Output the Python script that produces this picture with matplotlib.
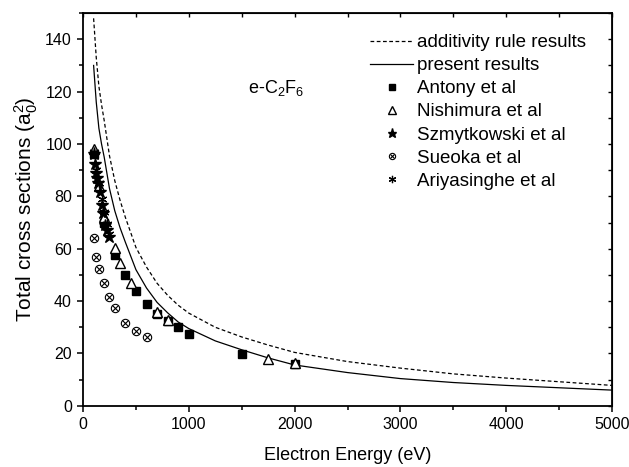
import matplotlib
matplotlib.use("Agg")
import matplotlib.pyplot as plt
from matplotlib.legend_handler import HandlerTuple
from matplotlib.ticker import MultipleLocator

plt.rcParams['font.family'] = ['Liberation Sans', 'DejaVu Sans']
plt.rcParams['mathtext.fontset'] = 'custom'
plt.rcParams['mathtext.rm'] = 'Liberation Sans'
plt.rcParams['mathtext.it'] = 'Liberation Sans:italic'

# theory curves
e_curve = [100, 125, 150, 175, 200, 250, 300, 350, 400, 500, 600, 700, 800,
           900, 1000, 1250, 1500, 1750, 2000, 2500, 3000, 3500, 4000, 4500, 5000]
additivity = [148, 133, 122, 115, 109, 95.5, 86, 78.5, 72, 60.5, 53, 46.8, 42.2,
              38.4, 35.4, 30, 26.3, 23.2, 20.4, 16.9, 14.4, 12.2, 10.6, 9.2, 7.8]
present = [130, 116, 106, 100, 95, 83, 74.5, 68, 62.5, 52, 45, 39.5, 35.5,
           32, 29.5, 24.8, 21.4, 18.3, 15.6, 12.7, 10.4, 8.9, 7.8, 6.9, 6.0]

# experiments
antony_e = [100, 200, 300, 400, 500, 600, 700, 800, 900, 1000, 1500, 2000]
antony_q = [96, 70, 57.6, 50, 44, 39, 35, 32.5, 30, 27.6, 19.8, 16]

nishimura_e = [100, 150, 200, 300, 350, 450, 700, 800, 1750, 2000]
nishimura_q = [98, 84, 72, 60.4, 54.7, 46.8, 35.9, 32.8, 18, 16.5]

szmyt_e = [100, 110, 120, 130, 140, 160, 180, 190, 210, 230, 250]
szmyt_q = [96, 92.5, 89, 87, 85, 81.8, 76.7, 73.5, 69, 67.2, 64.4]

sueoka_e = [100, 120, 150, 200, 250, 300, 400, 500, 600]
sueoka_q = [64, 57, 52.3, 47, 41.4, 37.4, 31.8, 28.7, 26.4]

ariya_e = [100, 125, 150, 175, 200, 225, 250]
ariya_q = [97, 90, 85, 79, 74, 69.5, 65.5]

fig = plt.figure(figsize=(6.29, 4.67), dpi=100)
ax = fig.add_axes([0.132, 0.131, 0.841, 0.841])

l1, = ax.plot(e_curve, additivity, color='k', lw=0.9, ls=(0, (3, 2)))
l2, = ax.plot(e_curve, present, color='k', lw=0.9)
m1, = ax.plot(antony_e, antony_q, 's', color='k', ms=5.5, ls='none')
m2, = ax.plot(nishimura_e, nishimura_q, '^', mfc='white', mec='k', mew=1.0, ms=7, ls='none')
m3, = ax.plot(szmyt_e, szmyt_q, '*', color='k', ms=9, ls='none')
s_o, = ax.plot(sueoka_e, sueoka_q, 'o', mfc='white', mec='k', mew=0.8, ms=6, ls='none')
s_x, = ax.plot(sueoka_e, sueoka_q, 'x', color='k', mew=0.8, ms=4.3, ls='none')
m5, = ax.plot(ariya_e, ariya_q, marker=(6, 2, 0), color='k', mew=0.9, ms=7, ls='none')

ax.text(1560, 119.5, 'e-C$_2$F$_6$', fontsize=13, va='baseline')

ax.set_xlim(0, 5000)
ax.set_ylim(0, 150)
ax.xaxis.set_major_locator(MultipleLocator(1000))
ax.xaxis.set_minor_locator(MultipleLocator(500))
ax.yaxis.set_major_locator(MultipleLocator(20))
ax.yaxis.set_minor_locator(MultipleLocator(10))
ax.tick_params(which='major', direction='out', length=4.5, width=1.1, labelsize=11.5)
ax.tick_params(which='minor', direction='out', length=3, width=1.1)
for sp in ax.spines.values():
    sp.set_linewidth(1.3)

top = ax.secondary_xaxis('top')
top.xaxis.set_major_locator(MultipleLocator(1000))
top.xaxis.set_minor_locator(MultipleLocator(500))
top.tick_params(which='both', direction='in', length=3, width=1.0, labeltop=False)
right = ax.secondary_yaxis('right')
right.yaxis.set_major_locator(MultipleLocator(20))
right.yaxis.set_minor_locator(MultipleLocator(10))
right.tick_params(which='both', direction='in', length=3, width=1.0, labelright=False)

ax.set_xlabel('Electron Energy (eV)', fontsize=13, labelpad=11)
ax.set_ylabel('Total cross sections (a$_0^2$)', fontsize=15, labelpad=4)

leg = ax.legend([l1, l2, m1, m2, m3, (s_o, s_x), m5],
                ['additivity rule results', 'present results', 'Antony et al',
                 'Nishimura et al', 'Szmytkowski et al', 'Sueoka et al', 'Ariyasinghe et al'],
                handler_map={tuple: HandlerTuple(ndivide=1, pad=0)},
                loc='upper left', bbox_to_anchor=(370 / 629, 1 - 34 / 467),
                bbox_transform=fig.transFigure, frameon=False, borderpad=0,
                fontsize=13.5, handlelength=2.3, handletextpad=0.2, labelspacing=0.32,
                markerscale=0.75, borderaxespad=0)

fig.savefig('out.png', dpi=100)
